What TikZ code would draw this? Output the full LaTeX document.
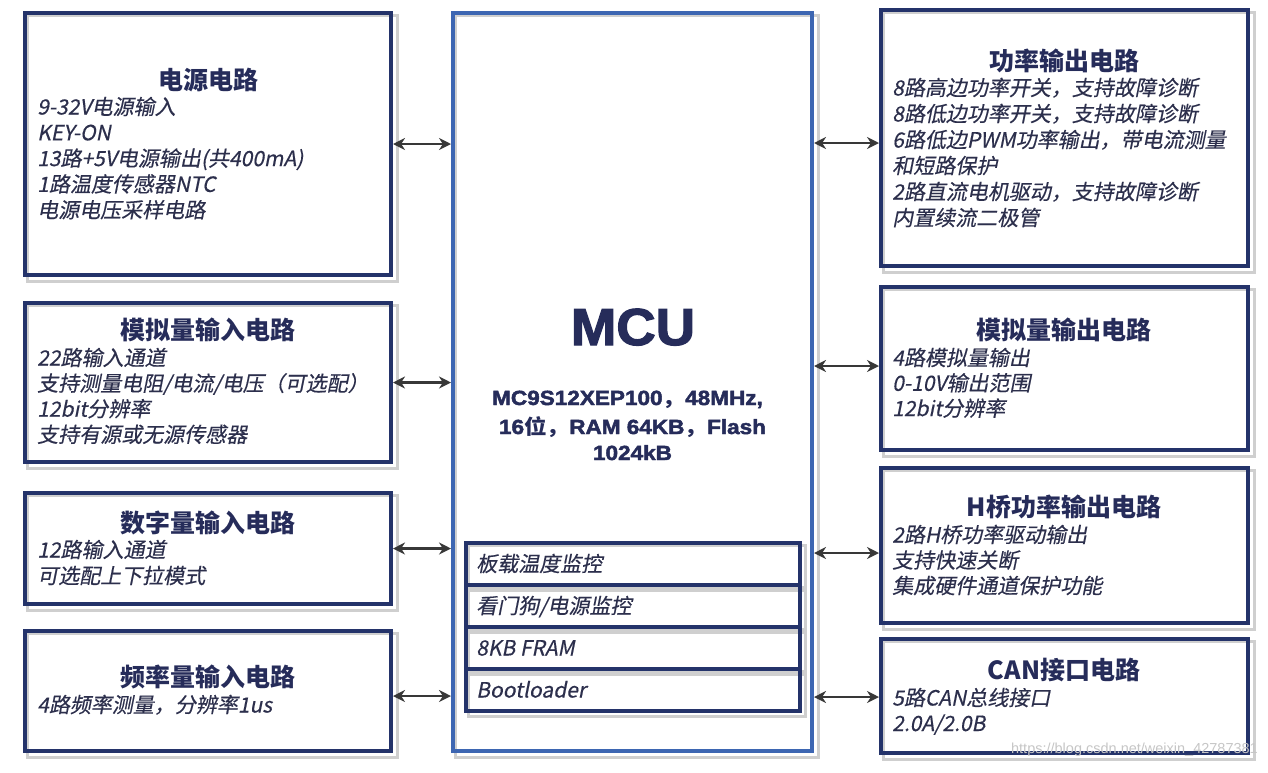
\documentclass[tikz,border=0pt]{standalone}
\usepackage{fontspec}
\setmainfont{Liberation Sans}
\newfontfamily\heavy[BoldFeatures={FakeBold=2.2}]{Liberation Sans}
\newfontfamily\cjk{Noto Sans CJK SC}
\newfontfamily\cjkit[FakeSlant=0.2,FakeBold=0.4]{Noto Sans CJK SC}
\usetikzlibrary{arrows.meta,calc,backgrounds}
\definecolor{navy}{HTML}{24336A}
\definecolor{mcublue}{HTML}{3D66B2}
\definecolor{titlec}{HTML}{262C5A}
\definecolor{bodyc}{HTML}{2C2F4C}
\definecolor{arrowc}{HTML}{383838}
\definecolor{shadowc}{HTML}{CFCFCF}
\newcommand\bodylines[5]{%
  \foreach \t [count=\i] in {#5}
    \node[body] (#1-\i) at ({#2},{#3+#4*(\i-1)}) {\t};}
\begin{document}
\begin{tikzpicture}[x=1pt,y=-1pt,
  box/.style={draw=navy,line width=4pt,inner sep=0pt},
  mcubox/.style={draw=mcublue,line width=4pt,inner sep=0pt},
  rowbox/.style={draw=navy,line width=3.5pt,inner sep=0pt,minimum width=334pt,minimum height=42pt},
  title/.style={font={\cjk\bfseries\fontsize{25}{30}\selectfont},text=titlec,anchor=base,inner sep=0pt},
  body/.style={font={\cjkit\fontsize{21}{26}\selectfont},text=bodyc,anchor=base west,inner sep=0pt},
  mcut/.style={font={\heavy\bfseries\fontsize{20.5}{26}\selectfont},text=titlec,anchor=base,inner sep=0pt,xscale=1.1},
  conn/.style={arrowc,line width=2.2pt,{Stealth[length=12pt,width=12pt]}-{Stealth[length=12pt,width=12pt]}},
  shadowline/.style={shadowc,line width=3pt}]
\path[use as bounding box] (0,0) rectangle (1268,772);

% left boxes
\node[box,minimum width=366pt,minimum height=262pt] (L1) at (208,144) {};
\node[box,minimum width=366pt,minimum height=159pt] (L2) at (208,382.5) {};
\node[box,minimum width=366pt,minimum height=111pt] (L3) at (208,548.5) {};
\node[box,minimum width=366pt,minimum height=120pt] (L4) at (208,691) {};
% MCU
\node[mcubox,minimum width=359pt,minimum height=738pt] (mcu) at (632.5,382) {};
% right boxes
\node[box,minimum width=367pt,minimum height=256pt] (R1) at (1064.5,138) {};
\node[box,minimum width=367pt,minimum height=163pt] (R2) at (1064.5,368.5) {};
\node[box,minimum width=367pt,minimum height=155pt] (R3) at (1064.5,545.5) {};
\node[box,minimum width=367pt,minimum height=114pt] (R4) at (1064.5,696) {};
% MCU rows
\node[rowbox] (s1) at (633,564) {};
\node[rowbox] (s2) at (633,606) {};
\node[rowbox] (s3) at (633,648) {};
\node[rowbox] (s4) at (633,690) {};

\begin{scope}[on background layer]
  \foreach \n in {L1,L2,L3,L4,mcu,R1,R2,R3,R4,s1,s2,s3,s4}
    \draw[shadowline] ([shift={(4,4)}]\n.north west) rectangle ([shift={(4,4)}]\n.south east);
\end{scope}

% titles
\node[title] (tL1) at (208,89.5) {电源电路};
\node[title] (tL2) at (208,339.5) {模拟量输入电路};
\node[title] (tL3) at (208,532.5) {数字量输入电路};
\node[title] (tL4) at (208,686.5) {频率量输入电路};
\node[title] (tR1) at (1064,70) {功率输出电路};
\node[title] (tR2) at (1064,339.5) {模拟量输出电路};
\node[title] (tR3) at (1064,516.5) {H桥功率输出电路};
\node[title] (tR4) at (1064,679.5) {CAN接口电路};

% body lines
\bodylines{bL1}{37}{114.5}{25.8}{9-32V电源输入,KEY-ON,13路+5V电源输出(共400mA),1路温度传感器NTC,电源电压采样电路}
\bodylines{bL2}{37}{365.5}{25.6}{22路输入通道,支持测量电阻/电流/电压（可选配）,12bit分辨率,支持有源或无源传感器}
\bodylines{bL3}{37}{557.5}{26}{12路输入通道,可选配上下拉模式}
\bodylines{bL4}{37}{712.5}{26}{4路频率测量，分辨率1us}
\bodylines{bR1}{892}{95.5}{26}{8路高边功率开关，支持故障诊断,8路低边功率开关，支持故障诊断,6路低边PWM功率输出，带电流测量,和短路保护,2路直流电机驱动，支持故障诊断,内置续流二极管}
\bodylines{bR2}{892}{365.5}{25.3}{4路模拟量输出,0-10V输出范围,12bit分辨率}
\bodylines{bR3}{892}{542.5}{25.5}{2路H桥功率驱动输出,支持快速关断,集成硬件通道保护功能}
\bodylines{bR4}{892}{705.5}{25.5}{5路CAN总线接口,2.0A/2.0B}
\bodylines{bS}{476}{571.5}{42}{板载温度监控,看门狗/电源监控,8KB FRAM,Bootloader}

% MCU text
\node[font={\heavy\bfseries\fontsize{52}{60}\selectfont},text=titlec,anchor=base,inner sep=0pt,xscale=1.05] (mcut) at (633,345) {MCU};
\node[mcut] (m1) at (627.5,405) {MC9S12XEP100{\cjk ，}48MHz,};
\node[mcut] (m2) at (632.5,434) {16{\cjk 位，}RAM 64KB{\cjk ，}Flash};
\node[mcut] (m3) at (632.5,460) {1024kB};

% connectors
\draw[conn] (L1.east) -- (L1.east -| mcu.west);
\draw[conn] (L2.east) -- (L2.east -| mcu.west);
\draw[conn] (L3.east) -- (L3.east -| mcu.west);
\draw[conn] ($(L4.east)+(0,5)$) -- ($(L4.east -| mcu.west)+(0,5)$);
\draw[conn] ($(R1.west -| mcu.east)+(0,5)$) -- ($(R1.west)+(0,5)$);
\draw[conn] ($(R2.west -| mcu.east)+(0,-2.5)$) -- ($(R2.west)+(0,-2.5)$);
\draw[conn] ($(R3.west -| mcu.east)+(0,7.5)$) -- ($(R3.west)+(0,7.5)$);
\draw[conn] ($(R4.west -| mcu.east)+(0,1)$) -- ($(R4.west)+(0,1)$);

% watermark
\node[font={\fontsize{14.5}{16}\selectfont},text=gray!45,anchor=base east,inner sep=0pt] (wm) at (1258,753) {https://blog.csdn.net/weixin\_42787381};
\end{tikzpicture}
\end{document}
